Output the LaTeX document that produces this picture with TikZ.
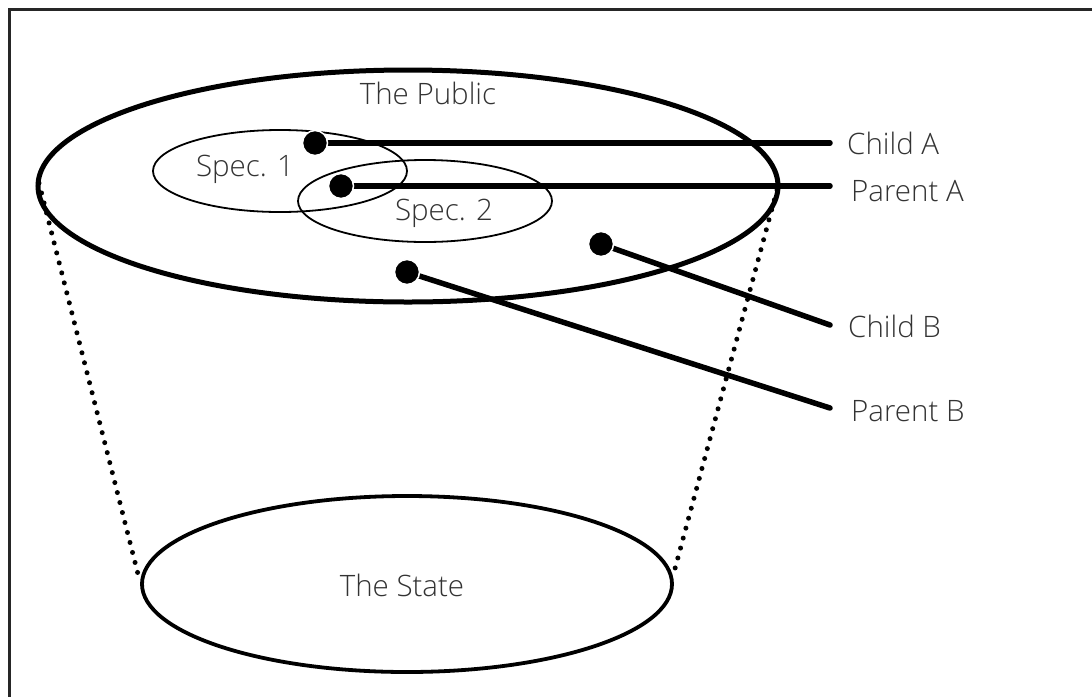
\documentclass[tikz,border=0pt]{standalone}
\usepackage{fontspec}
\setmainfont{Open Sans Light}
\begin{document}
\begin{tikzpicture}[x=1pt,y=-1pt,
  lbl/.style={text=black!80, font=\fontsize{29.5}{32}\selectfont, inner sep=0pt},
  conn/.style={line width=5.5pt, line cap=round},
  dotnode/.style={circle, fill=black, draw=white, line width=1.5pt, minimum size=25pt, inner sep=0pt},
  dotline/.style={line width=5pt, line cap=round, dash pattern=on 0pt off 10.3pt}]
\useasboundingbox (0,0) rectangle (1092,697);
\fill[white] (0,0) rectangle (1092,697);
% frame (top and left only)
\draw[line width=3pt, black!85] (1092,9) -- (9,9) -- (9,697);
% dotted sides
\coordinate (tl) at (39,183);
\coordinate (bl) at (139,578);
\coordinate (tr) at (777,190);
\coordinate (br) at (673,576);
\draw[dotline] (tl) -- (bl);
\draw[dotline] (tr) -- (br);
% ellipses
\draw[line width=5pt] (408,186) ellipse [x radius=370, y radius=116];
\draw[line width=3.8pt] (407,584) ellipse [x radius=265, y radius=88];
\draw[line width=1.8pt] (280,171) ellipse [x radius=127, y radius=41];
\draw[line width=1.8pt] (425,201) ellipse [x radius=127, y radius=41];
% labels in ellipses
\node[lbl] (pub) at (428,93) {The Public};
\node[lbl] (s1) at (245,169) {Spec. 1};
\node[lbl] (s2) at (444,213) {Spec. 2};
\node[lbl] (st) at (402,585) {The State};
% right labels
\node[lbl, anchor=west] (ca) at (847,143) {Child A};
\node[lbl, anchor=west] (pa) at (851,191) {Parent A};
\node[lbl, anchor=west] (cb) at (848,326) {Child B};
\node[lbl, anchor=west] (pb) at (851,411) {Parent B};
% line ends
\coordinate (eca) at (830,143);
\coordinate (epa) at (830,186);
\coordinate (ecb) at (830,325);
\coordinate (epb) at (830,408);
% dots
\coordinate (dca) at (315,143);
\coordinate (dpa) at (341,186);
\coordinate (dcb) at (601,244);
\coordinate (dpb) at (407,272);
\draw[conn] (dca) -- (eca);
\draw[conn] (dpa) -- (epa);
\draw[conn] (dcb) -- (ecb);
\draw[conn] (dpb) -- (epb);
\node[dotnode] (nca) at (dca) {};
\node[dotnode] (npa) at (dpa) {};
\node[dotnode] (ncb) at (dcb) {};
\node[dotnode] (npb) at (dpb) {};
\end{tikzpicture}
\end{document}
